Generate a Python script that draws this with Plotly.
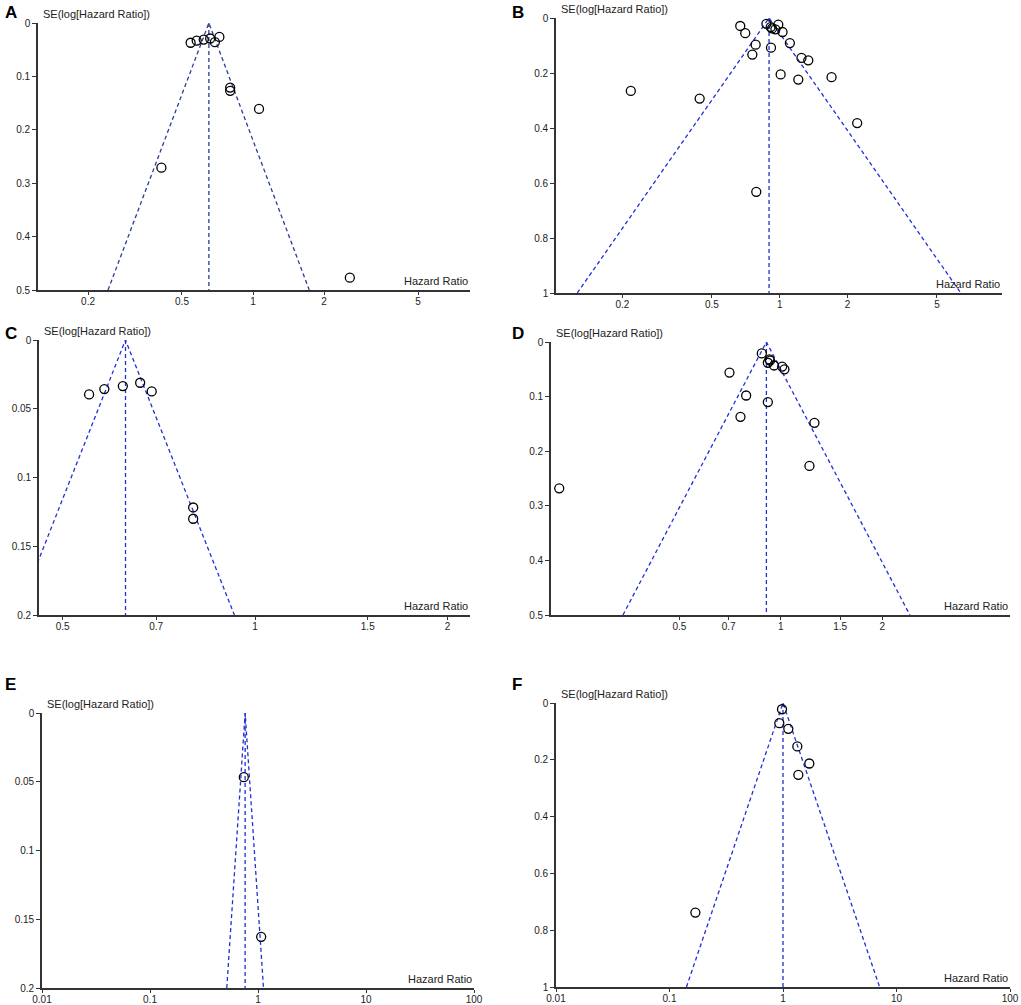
import numpy as np
import plotly.graph_objects as go

W, H = 1021, 1005

# ---- data: hazard ratio and SE(log HR) per study ----
a_hr = [0.544, 0.577, 0.618, 0.658, 0.689, 0.720, 0.800, 0.800, 1.06, 0.409, 2.57]
a_se = [0.037, 0.033, 0.031, 0.029, 0.036, 0.026, 0.121, 0.127, 0.161, 0.271, 0.477]

b_hr = [0.668, 0.703, 0.782, 0.756, 0.873, 0.912, 0.925, 0.957, 0.986, 1.03, 0.915,
        1.11, 1.25, 1.34, 1.01, 1.21, 1.70, 2.21, 0.218, 0.441, 0.787]
b_se = [0.029, 0.055, 0.097, 0.133, 0.021, 0.033, 0.038, 0.041, 0.024, 0.051, 0.108,
        0.091, 0.145, 0.154, 0.205, 0.224, 0.215, 0.382, 0.265, 0.293, 0.632]

c_hr = [0.550, 0.581, 0.621, 0.661, 0.689, 0.800, 0.800]
c_se = [0.0396, 0.0357, 0.0335, 0.0311, 0.0374, 0.1218, 0.130]

d_hr = [0.878, 0.925, 0.929, 0.915, 0.955, 1.009, 1.025, 0.704, 0.789, 0.759, 0.915,
        1.258, 1.216, 0.220]
d_se = [0.021, 0.032, 0.034, 0.038, 0.043, 0.045, 0.050, 0.056, 0.098, 0.137, 0.110,
        0.148, 0.227, 0.268]

e_hr = [0.739, 1.07]
e_se = [0.0467, 0.1628]

f_hr = [0.98, 0.928, 1.114, 1.337, 1.705, 1.365, 0.169]
f_se = [0.022, 0.071, 0.091, 0.153, 0.213, 0.253, 0.738]

# funnel: pooled HR, max SE, lower / upper limit at max SE
funnel_pooled = [0.65, 0.897, 0.627, 0.906, 0.76, 1.0]
funnel_se_max = [0.5, 1.0, 0.2, 0.5, 0.2, 1.0]
funnel_lower = [0.243, 0.126, 0.424, 0.340, 0.514, 0.141]
funnel_upper = [1.73, 6.38, 0.928, 2.415, 1.124, 7.1]

x_ticks = [[0.2, 0.5, 1, 2, 5], [0.2, 0.5, 1, 2, 5], [0.5, 0.7, 1, 1.5, 2],
           [0.5, 0.7, 1, 1.5, 2], [0.01, 0.1, 1, 10, 100], [0.01, 0.1, 1, 10, 100]]
x_ranges = [[-0.911, 0.919], [-0.994, 0.988], [-0.338, 0.336],
            [-0.682, 0.680], [-2, 2], [-2, 2]]
y_ticks = [[0, 0.1, 0.2, 0.3, 0.4, 0.5], [0, 0.2, 0.4, 0.6, 0.8, 1],
           [0, 0.05, 0.1, 0.15, 0.2], [0, 0.1, 0.2, 0.3, 0.4, 0.5],
           [0, 0.05, 0.1, 0.15, 0.2], [0, 0.2, 0.4, 0.6, 0.8, 1]]
letters = ["A", "B", "C", "D", "E", "F"]

hrs = [a_hr, b_hr, c_hr, d_hr, e_hr, f_hr]
ses = [a_se, b_se, c_se, d_se, e_se, f_se]

# pixel boxes of each panel: x_left, x_right, y_top, y_bottom
boxes = [(38, 470, 23, 290), (556, 1002, 18, 293),
         (39, 470, 340, 615), (551, 1010, 342, 615),
         (42, 474, 713, 988), (556, 1010, 703, 987)]
letter_pos = [(3, 12), (510, 12), (3, 333), (510, 333), (3, 684), (510, 684)]
line_colors = ["#2c3c96", "#1f2fd6", "#1f2fd6", "#1f2fd6", "#1f2fd6", "#1f2fd6"]


def px(x):
    return x / W


def py(y):
    return 1 - y / H


fig = go.Figure()
layout = dict(width=W, height=H,
              margin=dict(l=0, r=0, t=0, b=0, pad=0, autoexpand=False),
              plot_bgcolor="white", paper_bgcolor="white", showlegend=False)
annotations = []
tick_font = dict(family="Liberation Sans Narrow, Arial Narrow, Liberation Sans", size=10, color="#222")
label_font = dict(family="Liberation Sans Narrow, Arial Narrow, Liberation Sans", size=11, color="#222")

for i in range(6):
    n = "" if i == 0 else str(i + 1)
    xa, ya = "x" + n, "y" + n
    x0, x1, yt, yb = boxes[i]
    pooled, smax = funnel_pooled[i], funnel_se_max[i]
    col = line_colors[i]

    # funnel sides and pooled line (clipped to the plot area)
    fig.add_trace(go.Scatter(x=[funnel_lower[i], pooled, funnel_upper[i]], y=[smax, 0, smax],
                             mode="lines", line=dict(color=col, width=1.3, dash="4px,3px"),
                             xaxis=xa, yaxis=ya, hoverinfo="skip"))
    fig.add_trace(go.Scatter(x=[pooled, pooled], y=[0, smax], mode="lines",
                             line=dict(color=col, width=1.3, dash="4px,3px"),
                             xaxis=xa, yaxis=ya, hoverinfo="skip"))
    # studies
    fig.add_trace(go.Scatter(x=hrs[i], y=ses[i], mode="markers", cliponaxis=False,
                             marker=dict(symbol="circle-open", size=9, color="black",
                                         line=dict(width=1.3, color="black")),
                             xaxis=xa, yaxis=ya))

    layout["xaxis" + n] = dict(
        type="log", domain=[px(x0), px(x1)], range=x_ranges[i], anchor=ya,
        tickvals=x_ticks[i], ticktext=[str(v) for v in x_ticks[i]],
        ticks="outside", ticklen=3, tickwidth=1.2, tickcolor="#333", ticklabelstandoff=-2,
        showline=True, linecolor="#333", linewidth=1.6, showgrid=False, zeroline=False,
        tickfont=tick_font)
    layout["yaxis" + n] = dict(
        domain=[py(yb), py(yt)], range=[smax, 0], anchor=xa,
        tickvals=y_ticks[i], ticktext=[f"{v:g}" for v in y_ticks[i]],
        ticks="outside", ticklen=4, tickwidth=1.2, tickcolor="#333",
        showline=True, linecolor="#333", linewidth=1.6, showgrid=False, zeroline=False,
        tickfont=tick_font)

    annotations.append(dict(text="SE(log[Hazard Ratio])", xref="paper", yref="paper",
                            x=px(x0 + 3), y=py(yt - 1), xanchor="left", yanchor="bottom",
                            showarrow=False, font=label_font))
    annotations.append(dict(text="Hazard Ratio", xref="paper", yref="paper",
                            x=px(x1), y=py(yb - 1), xanchor="right", yanchor="bottom",
                            showarrow=False, font=label_font))
    lx, ly = letter_pos[i]
    annotations.append(dict(text="<b>%s</b>" % letters[i], xref="paper", yref="paper",
                            x=px(lx), y=py(ly), xanchor="left", yanchor="middle",
                            showarrow=False,
                            font=dict(family="Liberation Sans, Arial", size=17, color="black")))

layout["annotations"] = annotations
fig.update_layout(**layout)
# drop the default 8px page margin so the figure sits at the window's corner
fig.write_html("out.html", config={"displayModeBar": False},
               post_script="document.body.style.margin='0';")
